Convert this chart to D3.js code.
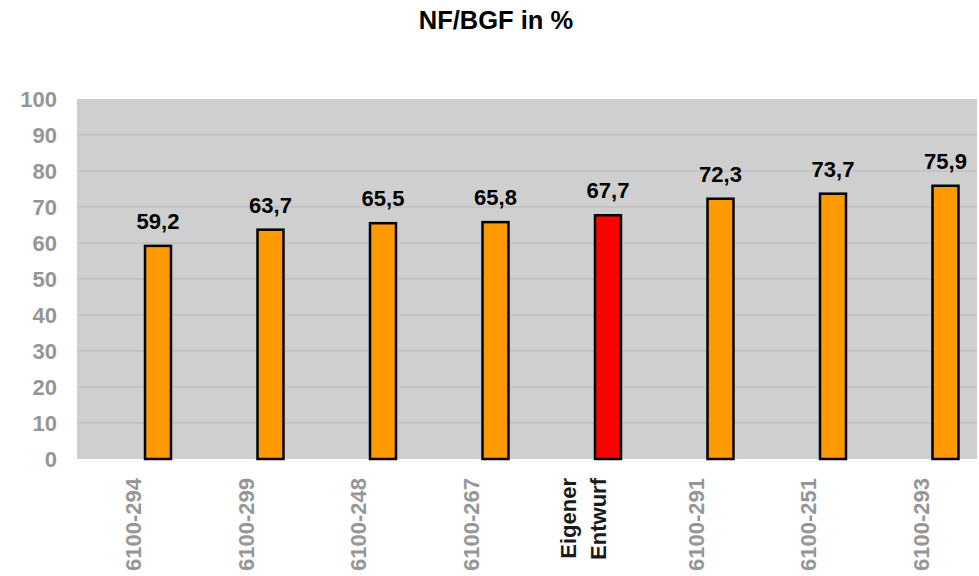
<!DOCTYPE html>
<html>
<head>
<meta charset="utf-8">
<script src="https://cdn.jsdelivr.net/npm/d3@7"></script>
<style>
  body { margin: 0; background: #fff; }
  text { font-family: "Liberation Sans", Arial, sans-serif; font-weight: bold; }
</style>
</head>
<body>
<div id="chart"></div>
<script>
var categories = ['6100-294', '6100-299', '6100-248', '6100-267', 'Eigener Entwurf', '6100-291', '6100-251', '6100-293'];
var values = [59.2, 63.7, 65.5, 65.8, 67.7, 72.3, 73.7, 75.9];
var highlight = ['Eigener Entwurf'];
var yTicks = [0, 10, 20, 30, 40, 50, 60, 70, 80, 90, 100];

var width = 979, height = 576;
var margin = {top: 99, right: 2, bottom: 117, left: 77};

var svg = d3.select('#chart')
    .append('svg')
    .attr('width', width)
    .attr('height', height);

svg.append('text')
    .attr('x', 496)
    .attr('y', 29)
    .attr('text-anchor', 'middle')
    .style('font-size', '25.5px')
    .attr('fill', '#000')
    .text('NF/BGF in %');

var x = d3.scaleBand()
    .domain(categories)
    .range([margin.left, width - margin.right]);

var y = d3.scaleLinear()
    .domain([0, 100])
    .range([height - margin.bottom, margin.top]);

// plot area
svg.append('rect')
    .attr('x', margin.left)
    .attr('y', margin.top)
    .attr('width', width - margin.left - margin.right)
    .attr('height', height - margin.top - margin.bottom)
    .attr('fill', '#cfcfcf');

// grid lines
svg.append('g')
    .selectAll('line')
    .data(yTicks.slice(1, -1))
    .enter()
    .append('line')
    .attr('x1', margin.left)
    .attr('x2', width - margin.right)
    .attr('y1', d => y(d))
    .attr('y2', d => y(d))
    .attr('stroke', '#b9b9b9')
    .attr('stroke-width', 1);

// y axis
var yAxis = svg.append('g')
    .attr('transform', `translate(${margin.left - 20}, 0)`)
    .call(d3.axisLeft(y).tickValues(yTicks).tickSize(0).tickPadding(0));
yAxis.select('.domain').remove();
yAxis.selectAll('text')
    .style('font-size', '22px')
    .style('font-family', '"Liberation Sans", Arial, sans-serif')
    .style('font-weight', 'bold')
    .attr('fill', '#969696');

// bars: second slot of each category (first slot is empty)
var slot = d3.scaleBand()
    .domain(['leer', 'Wert'])
    .range([0, x.bandwidth()])
    .paddingInner(0.475)
    .paddingOuter(0.374);

var data = categories.map((c, i) => ({cat: c, value: values[i]}));

svg.append('g')
    .selectAll('rect')
    .data(data)
    .enter()
    .append('rect')
    .attr('x', d => x(d.cat) + slot('Wert'))
    .attr('y', d => y(d.value))
    .attr('width', slot.bandwidth())
    .attr('height', d => y(0) - y(d.value))
    .attr('fill', d => highlight.includes(d.cat) ? '#ff0000' : '#ff9900')
    .attr('stroke', '#000')
    .attr('stroke-width', 2.5);

// value labels
svg.append('g')
    .selectAll('text')
    .data(data)
    .enter()
    .append('text')
    .attr('x', d => x(d.cat) + slot('Wert') + slot.bandwidth() / 2)
    .attr('y', d => y(d.value) - 17)
    .attr('text-anchor', 'middle')
    .style('font-size', '22px')
    .attr('fill', '#000')
    .text(d => d.value.toFixed(1).replace('.', ','));

// category labels, rotated
var labels = svg.append('g')
    .selectAll('text')
    .data(categories)
    .enter()
    .append('text')
    .attr('transform', d => `translate(${x(d) + x.bandwidth() / 2}, ${height - margin.bottom + 19}) rotate(-90)`)
    .attr('text-anchor', 'end')
    .style('font-size', '22px')
    .attr('fill', d => highlight.includes(d) ? '#1a1a1a' : '#969696');

labels.each(function(d) {
    var words = d.split(' ');
    var el = d3.select(this);
    var lineH = 30;
    var startY = -((words.length - 1) * lineH) / 2 + 8;
    words.forEach((w, i) => {
        el.append('tspan')
            .attr('x', 0)
            .attr('y', startY + i * lineH)
            .text(w);
    });
});
</script>
</body>
</html>
